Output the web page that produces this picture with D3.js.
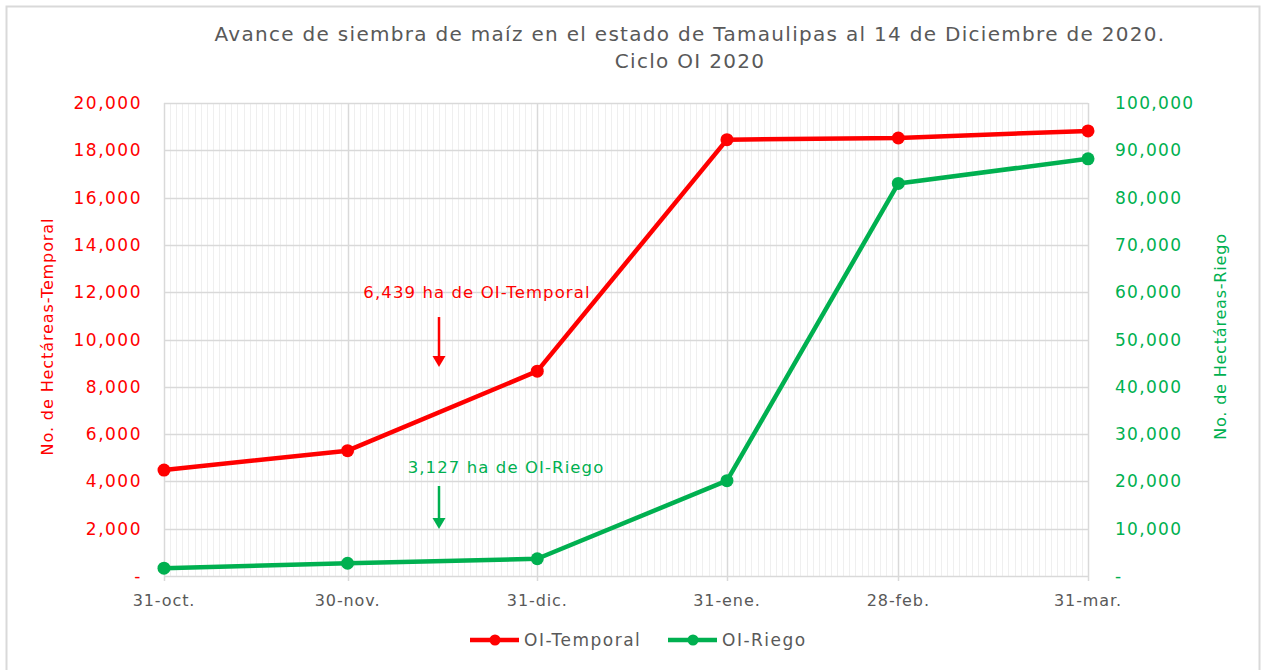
<!DOCTYPE html>
<html>
<head>
<meta charset="utf-8">
<script src="https://cdn.jsdelivr.net/npm/d3@7"></script>
<style>
  body { margin: 0; background: #fff; }
  svg { display: block; font-family: "DejaVu Sans", sans-serif; }
</style>
</head>
<body>
<svg id="chart" width="1263" height="670"></svg>
<script>
// Data
var fechas = ['2020-10-31', '2020-11-30', '2020-12-31', '2021-01-31', '2021-02-28', '2021-03-31'];
var etiquetasX = ['31-oct.', '30-nov.', '31-dic.', '31-ene.', '28-feb.', '31-mar.'];
var temporal = [4480, 5300, 8660, 18450, 18520, 18820];
var riego = [1650, 2700, 3650, 20150, 83000, 88200];
var ticksTemporal = [0, 2000, 4000, 6000, 8000, 10000, 12000, 14000, 16000, 18000, 20000];
var ticksRiego = [0, 10000, 20000, 30000, 40000, 50000, 60000, 70000, 80000, 90000, 100000];
var notaTemporal = '6,439 ha de OI-Temporal';
var notaRiego = '3,127 ha de OI-Riego';

var rojo = '#ff0000';
var verde = '#00b050';
var gris = '#595959';

var svg = d3.select('#chart');
var margin = { top: 103, right: 175, bottom: 94, left: 164 };
var width = 1263 - margin.left - margin.right;
var height = 670 - margin.top - margin.bottom;

var parse = d3.utcParse('%Y-%m-%d');
var dates = fechas.map(parse);

var x = d3.scaleUtc().domain(d3.extent(dates)).range([margin.left, margin.left + width]);
var yL = d3.scaleLinear().domain([0, 20000]).range([margin.top + height, margin.top]);
var yR = d3.scaleLinear().domain([0, 100000]).range([margin.top + height, margin.top]);

var fmt = function (d) { return d === 0 ? '-' : d3.format(',')(d); };

// outer frame
svg.append('rect')
  .attr('x', 6.5).attr('y', 6.5)
  .attr('width', 1253).attr('height', 680)
  .attr('fill', 'none')
  .attr('stroke', '#d9d9d9')
  .attr('stroke-width', 2);

// minor vertical grid (daily)
var dias = d3.utcDay.range(dates[0], d3.utcDay.offset(dates[dates.length - 1], 1));
svg.append('g')
  .selectAll('line')
  .data(dias)
  .enter().append('line')
  .attr('x1', function (d) { return Math.round(x(d)) + 0.5; })
  .attr('x2', function (d) { return Math.round(x(d)) + 0.5; })
  .attr('y1', margin.top)
  .attr('y2', margin.top + height)
  .attr('stroke', '#efefef')
  .attr('stroke-width', 1);

// major horizontal grid
svg.append('g')
  .selectAll('line')
  .data(ticksTemporal)
  .enter().append('line')
  .attr('x1', margin.left)
  .attr('x2', margin.left + width)
  .attr('y1', function (d) { return Math.round(yL(d)) + 0.5; })
  .attr('y2', function (d) { return Math.round(yL(d)) + 0.5; })
  .attr('stroke', '#d9d9d9')
  .attr('stroke-width', 1.5);

// major vertical grid (months)
svg.append('g')
  .selectAll('line')
  .data(dates)
  .enter().append('line')
  .attr('x1', function (d) { return Math.round(x(d)) + 0.5; })
  .attr('x2', function (d) { return Math.round(x(d)) + 0.5; })
  .attr('y1', margin.top)
  .attr('y2', margin.top + height + 5)
  .attr('stroke', '#d9d9d9')
  .attr('stroke-width', 1.5);

// x axis labels
svg.append('g')
  .selectAll('text')
  .data(dates)
  .enter().append('text')
  .attr('x', function (d) { return x(d); })
  .attr('y', margin.top + height + 30)
  .attr('text-anchor', 'middle')
  .attr('fill', gris)
  .style('font-size', '16px')
  .style('letter-spacing', '0.9px')
  .text(function (d, i) { return etiquetasX[i]; });

// left axis
svg.append('g')
  .selectAll('text')
  .data(ticksTemporal)
  .enter().append('text')
  .attr('x', 142)
  .attr('y', function (d) { return yL(d) + 6; })
  .attr('text-anchor', 'end')
  .attr('fill', rojo)
  .style('font-size', '17px')
  .style('letter-spacing', '1.5px')
  .text(fmt);

// right axis
svg.append('g')
  .selectAll('text')
  .data(ticksRiego)
  .enter().append('text')
  .attr('x', 1115)
  .attr('y', function (d) { return yR(d) + 6; })
  .attr('text-anchor', 'start')
  .attr('fill', verde)
  .style('font-size', '17px')
  .style('letter-spacing', '1.3px')
  .text(fmt);

// axis titles
svg.append('text')
  .attr('transform', 'translate(53,' + (margin.top + height / 2 - 3) + ') rotate(-90)')
  .attr('text-anchor', 'middle')
  .attr('fill', rojo)
  .style('font-size', '16px')
  .style('letter-spacing', '0.9px')
  .text('No. de Hectáreas-Temporal');

svg.append('text')
  .attr('transform', 'translate(1226,' + (margin.top + height / 2 - 3) + ') rotate(-90)')
  .attr('text-anchor', 'middle')
  .attr('fill', verde)
  .style('font-size', '16px')
  .style('letter-spacing', '0.8px')
  .text('No. de Hectáreas-Riego');

// title
var titulo = svg.append('text')
  .attr('text-anchor', 'middle')
  .attr('fill', gris)
  .style('font-size', '20px')
  .style('letter-spacing', '1.3px');
titulo.append('tspan').attr('x', 690).attr('y', 41)
  .text('Avance de siembra de maíz en el estado de Tamaulipas al 14 de Diciembre de 2020.');
titulo.append('tspan').attr('x', 690).attr('y', 68)
  .text('Ciclo OI 2020');

// series
var series = [
  { name: 'OI-Temporal', values: temporal, y: yL, color: rojo },
  { name: 'OI-Riego', values: riego, y: yR, color: verde }
];

series.forEach(function (s) {
  var line = d3.line()
    .x(function (d, i) { return x(dates[i]); })
    .y(function (d) { return s.y(d); });

  svg.append('path')
    .datum(s.values)
    .attr('d', line)
    .attr('fill', 'none')
    .attr('stroke', s.color)
    .attr('stroke-width', 4.5)
    .attr('stroke-linejoin', 'round');

  svg.append('g')
    .selectAll('circle')
    .data(s.values)
    .enter().append('circle')
    .attr('cx', function (d, i) { return x(dates[i]); })
    .attr('cy', function (d) { return s.y(d); })
    .attr('r', 6.5)
    .attr('fill', s.color);
});

// annotations with arrows
var fechaNota = parse('2020-12-15');
var notas = [
  { text: notaTemporal, color: rojo, y: yL, textAt: 11750, dx: 38, from: 10950, to: 8840 },
  { text: notaRiego, color: verde, y: yR, textAt: 21770, dx: 67, from: 19030, to: 9940 }
];

notas.forEach(function (n) {
  var ax = Math.round(x(fechaNota));
  svg.append('text')
    .attr('x', ax + n.dx)
    .attr('y', n.y(n.textAt))
    .attr('text-anchor', 'middle')
    .attr('fill', n.color)
    .style('font-size', '16.5px')
    .style('letter-spacing', '1.1px')
    .text(n.text);
  var y0 = n.y(n.from);
  var y1 = n.y(n.to);
  svg.append('line')
    .attr('x1', ax).attr('x2', ax)
    .attr('y1', y0).attr('y2', y1 - 9)
    .attr('stroke', n.color)
    .attr('stroke-width', 2.5);
  svg.append('path')
    .attr('d', 'M' + (ax - 6.5) + ',' + (y1 - 11) + 'L' + (ax + 6.5) + ',' + (y1 - 11) + 'L' + ax + ',' + y1 + 'Z')
    .attr('fill', n.color);
});

// legend
var legend = svg.append('g').attr('transform', 'translate(0,640)');
var lx = [470, 668];
series.forEach(function (s, i) {
  var g = legend.append('g').attr('transform', 'translate(' + lx[i] + ',0)');
  g.append('line')
    .attr('x1', 0).attr('x2', 49)
    .attr('stroke', s.color)
    .attr('stroke-width', 4.5);
  g.append('circle')
    .attr('cx', 25).attr('r', 5.5)
    .attr('fill', s.color);
  g.append('text')
    .attr('x', 54).attr('y', 6)
    .attr('fill', gris)
    .style('font-size', '17px')
    .style('letter-spacing', '1.5px')
    .text(s.name);
});
</script>
</body>
</html>
